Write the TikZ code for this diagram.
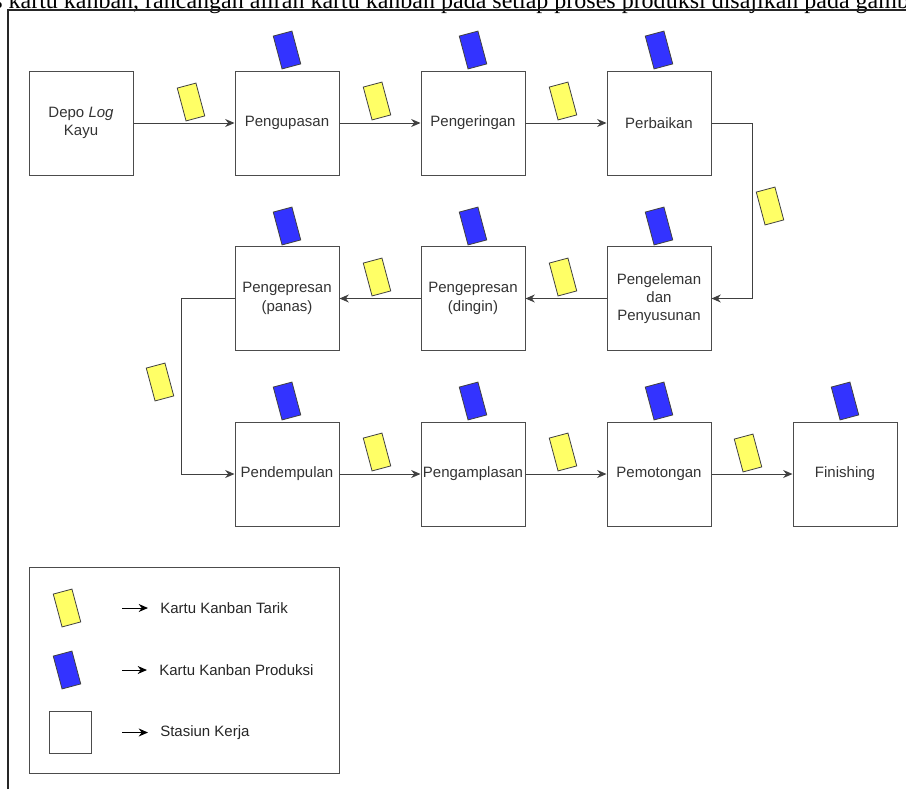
\documentclass[tikz,border=0pt]{standalone}
\usepackage{fontspec}
\setmainfont{Liberation Serif}
\setsansfont{Liberation Sans}
\usetikzlibrary{arrows.meta, positioning}
\definecolor{kuning}{HTML}{FFFF66}
\definecolor{biru}{HTML}{3333FF}

\begin{document}
\begin{tikzpicture}[x=0.75pt, y=-0.75pt,
        stasiun/.style={draw=black!70, line width=0.75pt, minimum size=78pt, inner sep=1pt, align=center,
            font=\sffamily\fontsize{11.25}{13.7}\selectfont, text=black!80},
        kartu/.style={draw=black!75, line width=0.6pt, minimum width=14.5pt, minimum height=25.5pt, inner sep=0pt, rotate=15},
        tarik/.style={kartu, fill=kuning},
        produksi/.style={kartu, fill=biru},
        ket/.style={anchor=west, inner sep=0pt, font=\sffamily\fontsize{11.25}{13.5}\selectfont, text=black!85},
        alur/.style={draw=black!75, line width=0.75pt, -{Stealth[length=7pt, width=6pt]}}]
                \useasboundingbox (0,0) rectangle (906,789);
                \clip (0,0) rectangle (906,789);
                \node (judul) [anchor=base west, inner sep=0pt, font=\fontsize{18}{18}\selectfont] at (-7,8)
                    {s kartu kanban, rancangan aliran kartu kanban pada setiap proses produksi disajikan pada gamb};
                \draw [line width=1.1pt, black!85] (8,789) -- (8,10) -- (906,10);

                \node (depo) [stasiun] at (81,123) {Depo \textit{Log}\\Kayu};
                \node (kupas) [stasiun] at (287,123) {Pengupasan};
                \node (kering) [stasiun] at (473,123) {Pengeringan};
                \node (baik) [stasiun] at (659,123) {Perbaikan};
                \node (lem) [stasiun] at (659,298.5) {Pengeleman\\dan\\Penyusunan};
                \node (dingin) [stasiun] at (473,298.5) {Pengepresan\\(dingin)};
                \node (panas) [stasiun] at (287,298.5) {Pengepresan\\(panas)};
                \node (dempul) [stasiun] at (287,474) {Pendempulan};
                \node (amplas) [stasiun] at (473,474) {Pengamplasan};
                \node (potong) [stasiun] at (659,474) {Pemotongan};
                \node (finish) [stasiun] at (845,474) {Finishing};

                \path [every edge/.style={alur}]
                    (depo) edge (kupas)
                    (kupas) edge (kering)
                    (kering) edge (baik)
                    (lem) edge (dingin)
                    (dingin) edge (panas)
                    (dempul) edge (amplas)
                    (amplas) edge (potong)
                    (potong) edge (finish);
                \draw [alur] (baik.east) -- ++(41,0) |- (lem.east);
                \draw [alur] (panas.west) -- ++(-53,0) |- (dempul.west);

                \node (p1) [produksi] at (287,50) {};
                \node (p2) [produksi] at (473,50) {};
                \node (p3) [produksi] at (659,50) {};
                \node (p4) [produksi] at (659,226) {};
                \node (p5) [produksi] at (473,226) {};
                \node (p6) [produksi] at (287,226) {};
                \node (p7) [produksi] at (287,401) {};
                \node (p8) [produksi] at (473,401) {};
                \node (p9) [produksi] at (659,401) {};
                \node (p10) [produksi] at (845,401) {};

                \node (t1) [tarik] at (191,102) {};
                \node (t2) [tarik] at (377,101) {};
                \node (t3) [tarik] at (563,101) {};
                \node (t4) [tarik] at (770,206) {};
                \node (t5) [tarik] at (563,277) {};
                \node (t6) [tarik] at (377,277) {};
                \node (t7) [tarik] at (160,382) {};
                \node (t8) [tarik] at (377,452) {};
                \node (t9) [tarik] at (563,452) {};
                \node (t10) [tarik] at (748,453) {};

                \node (legenda) [draw=black!70, line width=0.75pt, minimum width=232.5pt, minimum height=154.5pt] at (184,670) {};
                \node (lt) [tarik] at (67,608) {};
                \node (lp) [produksi] at (67,670) {};
                \node (ls) [draw=black!70, line width=0.75pt, minimum size=31.5pt, inner sep=0pt] at (70.5,732.5) {};
                \node (k1) [ket] at (160,608) {Kartu Kanban Tarik};
                \node (k2) [ket] at (159,670) {Kartu Kanban Produksi};
                \node (k3) [ket] at (160,732.5) {Stasiun Kerja};
                \coordinate (a1) at (122,608);
                \coordinate (a2) at (122,670);
                \coordinate (a3) at (122,732.5);
                \path [every edge/.style={alur, draw=black, shorten >=9pt}]
                    (a1) edge (k1)
                    (a2) edge (k2)
                    (a3) edge (k3);
            \end{tikzpicture}
\end{document}
